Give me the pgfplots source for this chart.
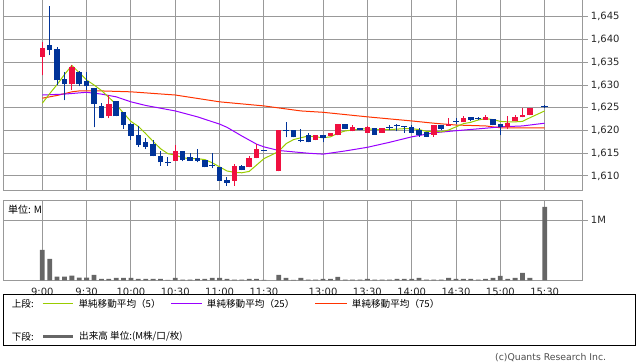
\documentclass[border=0pt]{standalone}
\usepackage{fontspec}
\setmainfont{DejaVu Sans}
\newfontfamily\jp{Noto Sans CJK JP}
\usepackage{pgfplots}
\pgfplotsset{compat=1.18}
\usepackage{pgfplotstable}

\definecolor{cred}{RGB}{240,16,64}
\definecolor{cblue}{RGB}{0,51,153}
\definecolor{cgreen}{RGB}{153,204,0}
\definecolor{cpurple}{RGB}{153,0,255}
\definecolor{corange}{RGB}{255,51,0}
\definecolor{cgrid}{RGB}{153,153,153}
\definecolor{cvol}{RGB}{102,102,102}

\pgfplotstableread{
i O H L C
0 1636.2 1639.5 1632.1 1638.2
4 1630.15 1634.3 1629.0 1634.0
9 1623.1 1627.9 1622.7 1625.9
18 1613.3 1616.7 1613.3 1615.6
26 1609.0 1612.7 1607.8 1612.1
28 1611.9 1614.4 1611.9 1613.9
29 1613.9 1617.1 1613.9 1616.0
32 1611.0 1620.1 1611.0 1620.1
37 1617.9 1619.1 1617.9 1619.1
39 1618.7 1619.5 1618.7 1619.5
40 1618.9 1621.5 1618.9 1621.5
42 1619.8 1621.1 1619.8 1620.7
44 1619.5 1621.0 1619.5 1620.7
46 1619.5 1620.6 1619.5 1620.6
53 1619.1 1621.1 1618.6 1621.1
55 1621.0 1622.7 1621.0 1621.5
57 1621.8 1623.1 1621.8 1622.7
60 1622.4 1623.5 1622.4 1623.0
63 1620.7 1623.1 1620.3 1621.6
64 1622.0 1623.5 1622.0 1623.0
65 1622.9 1624.9 1622.9 1623.5
66 1623.3 1624.9 1623.3 1624.9
}\upc

\pgfplotstableread{
i O H L C
1 1638.75 1647.35 1636.55 1637.65
2 1637.9 1638.4 1630.0 1631.0
3 1631.25 1632.9 1626.6 1630.15
5 1632.9 1633.0 1629.7 1630.15
6 1630.9 1632.9 1628.8 1629.7
7 1629.3 1629.3 1620.7 1625.8
8 1625.3 1626.0 1622.7 1622.7
10 1626.4 1626.4 1623.1 1623.1
11 1624.1 1624.1 1620.4 1621.3
12 1621.5 1621.7 1618.0 1618.8
13 1619.0 1621.0 1616.4 1616.8
14 1617.5 1618.4 1615.9 1616.4
15 1617.1 1618.0 1614.3 1614.3
16 1614.45 1615.6 1612.2 1613.0
19 1615.6 1615.6 1613.2 1613.6
20 1614.1 1615.0 1613.4 1613.4
21 1613.9 1615.9 1613.0 1613.4
22 1613.6 1613.6 1611.9 1611.9
24 1611.9 1611.9 1609.0 1609.0
25 1609.2 1609.7 1607.8 1608.4
27 1612.1 1612.4 1611.3 1611.3
34 1620.0 1620.0 1618.5 1618.5
36 1619.1 1619.5 1617.4 1617.4
38 1619.1 1619.1 1617.4 1618.4
41 1621.4 1621.4 1620.3 1620.3
43 1620.6 1620.6 1620.0 1620.0
45 1620.6 1620.6 1619.1 1619.1
50 1620.7 1621.1 1619.5 1619.5
51 1620.0 1620.6 1618.6 1618.9
52 1619.6 1619.6 1618.6 1618.6
54 1621.1 1621.1 1620.0 1620.4
58 1623.0 1623.0 1622.0 1622.4
61 1622.5 1622.5 1621.1 1621.1
62 1621.5 1621.5 1618.9 1620.8
}\dnc

\pgfplotstableread{
i C H L
17 1613.0 1614.1 1612.2
23 1612.2 1615.0 1611.7
30 1615.6 1615.6 1615.6
33 1620.0 1621.8 1618.5
35 1617.8 1620.4 1617.4
47 1620.6 1621.1 1620.0
48 1621.1 1621.4 1619.8
49 1620.9 1620.9 1619.5
56 1622.0 1622.7 1621.4
59 1622.7 1623.0 1622.4
68 1625.3 1625.6 1625.0
}\doji

\pgfplotstableread{
i v
0 0.506
1 0.356
2 0.061
3 0.061
4 0.078
5 0.044
6 0.044
7 0.089
8 0.022
9 0.022
10 0.039
11 0.039
12 0.039
13 0.022
14 0.022
15 0.022
16 0.022
17 0.008
18 0.039
19 0.011
20 0.011
21 0.022
22 0.022
23 0.039
24 0.039
25 0.022
26 0.011
27 0.011
28 0.022
29 0.022
30 0.006
32 0.089
33 0.039
34 0.006
35 0.039
36 0.011
37 0.011
38 0.022
39 0.022
40 0.056
41 0.011
42 0.011
43 0.011
44 0.022
45 0.011
46 0.011
47 0.011
48 0.022
49 0.022
50 0.022
51 0.039
52 0.011
53 0.011
54 0.011
55 0.039
56 0.022
57 0.022
58 0.022
59 0.011
60 0.022
61 0.039
62 0.072
63 0.022
64 0.039
65 0.122
66 0.039
68 1.222
}\vol

\pgfplotsset{
  base/.style={
    scale only axis, anchor=south west,
    width=579.4bp,
    xmin=-5.28, xmax=73.15,
    axis line style={cgrid, line width=1bp},
    grid style={cgrid, line width=1bp},
    xtick={0,6,12,18,24,30,38,44,50,56,62,68},
    xmajorgrids, ymajorgrids,
    xtick style={draw=none},
    ytick style={draw=cgrid, line width=1bp},
    tick align=outside, major tick length=5bp,
    ytick pos=right, yticklabel pos=right,
    every tick label/.append style={font=\fontsize{10bp}{12bp}\selectfont, text=black!85},
    yticklabel style={anchor=west, inner sep=0pt, xshift=3bp},
  },
  wick/.style={only marks, mark=*, mark size=0pt, mark options={draw=none, fill=none}, error bars/.cd, y dir=plus, y explicit, error mark=none, error bar style={line width=1bp, #1}},
  body/.style={only marks, mark=*, mark size=0pt, mark options={draw=none, fill=none}, error bars/.cd, y dir=plus, y explicit, error mark=none, error bar style={line width=5.5bp, #1}},
}

\begin{document}
\begin{tikzpicture}
\useasboundingbox (0,0) rectangle (638bp,362bp);

% price panel
\begin{axis}[base,
  at={(3.3bp,171.7bp)}, height=190.8bp,
  ymin=1606.85, ymax=1648.8,
  ytick={1610,1615,1620,1625,1630,1635,1640,1645},
  yticklabels={{1,610},{1,615},{1,620},{1,625},{1,630},{1,635},{1,640},{1,645}},
  xticklabels={},
]
\addplot[corange, line width=1bp] coordinates {(0,1627.1) (2,1627.7) (4,1628.5) (5,1628.7) (8,1628.7) (12,1628.5) (18,1627.8) (24,1626.3) (30,1625.4) (35,1624.3) (38,1624.0) (44,1623.0) (50,1622.1) (53,1621.6) (56,1621.2) (60,1621.0) (62,1620.6) (68,1620.6)};
\addplot[cpurple, line width=1bp] coordinates {(0,1627.8) (3,1628.0) (6,1628.4) (8,1628.0) (10,1627.4) (12,1626.3) (14,1625.5) (16,1624.9) (18,1624.3) (21,1623.0) (24,1621.4) (25,1620.7) (27,1618.8) (29,1617.0) (30,1616.4) (32,1615.6) (34,1615.3) (36,1615.0) (38,1614.8) (41,1615.5) (44,1616.3) (47,1617.4) (50,1618.6) (53,1619.5) (56,1619.95) (60,1620.5) (62,1620.8) (65,1621.0) (68,1621.6)};
\addplot[cgreen, line width=1bp] coordinates {(0,1626.0) (1,1628.1) (2,1630.1) (3,1632.3) (4,1634.3) (5,1632.7) (6,1631.1) (7,1630.0) (8,1628.8) (9,1627.3) (10,1625.7) (11,1623.8) (12,1622.0) (13,1620.9) (14,1619.3) (15,1617.6) (16,1616.0) (17,1614.9) (18,1614.6) (19,1614.0) (20,1613.8) (21,1613.8) (22,1613.6) (23,1612.9) (24,1612.0) (25,1611.1) (26,1610.8) (27,1610.7) (28,1611.0) (29,1612.4) (30,1613.8) (32,1615.4) (33,1617.1) (34,1618.0) (35,1618.4) (36,1618.8) (37,1618.6) (38,1618.4) (39,1618.6) (40,1619.4) (41,1619.9) (42,1620.1) (43,1620.3) (44,1620.4) (45,1620.2) (46,1620.2) (47,1620.2) (48,1620.3) (49,1620.4) (50,1620.4) (51,1620.2) (52,1619.8) (53,1619.8) (54,1619.7) (55,1620.1) (56,1620.8) (57,1621.5) (58,1621.8) (59,1622.3) (60,1622.6) (61,1622.4) (62,1622.0) (63,1621.9) (64,1621.9) (65,1622.0) (66,1622.8) (68,1624.3)};
% wicks
\addplot[wick=cred] table[x=i, y=L, y error expr=\thisrow{H}-\thisrow{L}] {\upc};
\addplot[wick=cblue] table[x=i, y=L, y error expr=\thisrow{H}-\thisrow{L}] {\dnc};
\addplot[wick=cblue] table[x=i, y=L, y error expr=\thisrow{H}-\thisrow{L}] {\doji};
% bodies
\addplot[body=cred] table[x=i, y=O, y error expr=\thisrow{C}-\thisrow{O}] {\upc};
\addplot[body=cblue] table[x=i, y=C, y error expr=\thisrow{O}-\thisrow{C}] {\dnc};
\addplot[only marks, mark=-, mark size=3.2bp, mark options={line width=1bp, draw=cblue}] table[x=i, y=C] {\doji};
\end{axis}

% volume panel
\begin{axis}[base,
  at={(3.3bp,81.7bp)}, height=79.3bp,
  ymin=0, ymax=1.3217,
  ytick={1}, yticklabels={1M},
  xticklabels={9:00,9:30,10:00,10:30,11:00,11:30,13:00,13:30,14:00,14:30,15:00,15:30},
  xticklabel style={anchor=base, inner sep=0pt, yshift=-10.4bp},
]
\addplot[ybar, bar width=4.8bp, fill=cvol, draw=none] table[x=i, y=v] {\vol};
\end{axis}

\node[anchor=west, inner sep=0pt, font=\jp\fontsize{10bp}{12bp}\selectfont] at (8bp,152.5bp) {単位: M};

% legend
\draw[black, line width=1bp] (3.3bp,16bp) rectangle (635.3bp,67.3bp);
\begin{scope}[every node/.style={anchor=west, inner sep=0pt, font=\jp\fontsize{9.6bp}{12bp}\selectfont}]
\node at (11.7bp,58.5bp) {上段:};
\draw[cgreen, line width=1bp] (42.7bp,58.5bp) -- (72.7bp,58.5bp);
\node at (78.3bp,58.5bp) {単純移動平均（5）};
\draw[cpurple, line width=1bp] (171bp,58.5bp) -- (201.7bp,58.5bp);
\node at (206.7bp,58.5bp) {単純移動平均（25）};
\draw[corange, line width=1bp] (315bp,58.5bp) -- (346.7bp,58.5bp);
\node at (351.7bp,58.5bp) {単純移動平均（75）};
\node at (11.7bp,25.3bp) {下段:};
\draw[cvol, line width=3bp] (43.3bp,25.3bp) -- (72.7bp,25.3bp);
\node at (79bp,25.3bp) {出来高 単位:(M株/口/枚)};
\end{scope}
\node[anchor=base west, inner sep=0pt, text=black!70, font=\fontsize{9.3bp}{11bp}\selectfont] at (495bp,2bp) {(c)Quants Research Inc.};
\end{tikzpicture}
\end{document}
